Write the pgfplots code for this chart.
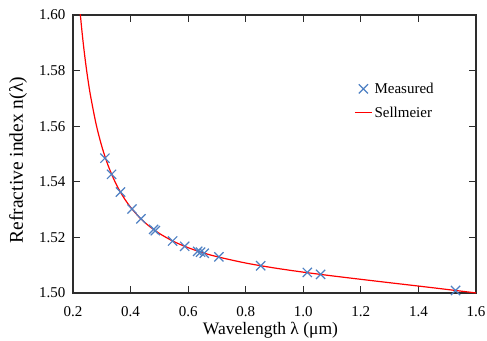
\documentclass[border=0pt]{standalone}
\usepackage{fontspec}
\setmainfont{Liberation Serif}
\usepackage{pgfplots}
\pgfplotsset{compat=1.18}
\definecolor{markblue}{RGB}{78,128,195}
\definecolor{axgray}{RGB}{45,45,45}
\begin{document}
\begin{tikzpicture}
\useasboundingbox (-73pt,-47pt) rectangle (414pt,293pt);
\begin{axis}[
  scale only axis,
  width=403pt, height=278pt,
  xmin=0.2, xmax=1.6, ymin=1.50, ymax=1.60,
  xtick={0.2,0.4,...,1.6},
  ytick={1.50,1.52,...,1.60},
  xticklabel style={/pgf/number format/.cd,fixed,fixed zerofill,precision=1,/tikz/.cd,yshift=-10pt},
  yticklabel style={/pgf/number format/.cd,fixed,fixed zerofill,precision=2,/tikz/.cd,xshift=-4pt},
  /pgf/number format/assume math mode=true,
  tick label style={font=\rmfamily\fontsize{15}{18}\selectfont, color=black},
  tick align=inside,
  major tick length=7pt,
  tick style={axgray, line width=1pt},
  axis line style={axgray, line width=1.3pt},
  xlabel={Wavelength λ (μm)},
  ylabel={Refractive index n(λ)},
  xlabel style={font=\rmfamily\fontsize{17.5}{20}\selectfont, inner sep=1pt, at={(axis description cs:0.49,-0.133)}, anchor=center},
  ylabel style={font=\rmfamily\fontsize{19.5}{22}\selectfont, at={(axis description cs:-0.136,0.478)}, anchor=center},
  legend style={draw=none, fill=none, font=\rmfamily\fontsize{15}{18}\selectfont,
    at={(axis description cs:0.69,0.771)}, anchor=north west,
    row sep=8pt, legend cell align=left},
]
\addplot[only marks, mark=x, mark size=6.5pt, color=markblue, line width=1.2pt] coordinates {
(0.311,1.5485) (0.334,1.5427) (0.365,1.5363) (0.405,1.5302) (0.436,1.5267)
(0.480,1.5229) (0.486,1.5224) (0.546,1.5187) (0.588,1.5168) (0.633,1.5150)
(0.643,1.5147) (0.656,1.5143) (0.707,1.5130) (0.852,1.5098) (1.014,1.5074)
(1.060,1.5067) (1.529,1.5009)
};
\addlegendentry{Measured}
\addplot[smooth, color=red, draw=red, line width=1.2pt] coordinates {
(0.225,1.60072) (0.230,1.59531) (0.235,1.59040) (0.240,1.58594) (0.245,1.58186)
(0.250,1.57811) (0.260,1.57147) (0.280,1.56086) (0.300,1.55277) (0.320,1.54643)
(0.340,1.54134) (0.360,1.53716) (0.380,1.53374) (0.400,1.53085) (0.430,1.52729)
(0.460,1.52444) (0.500,1.52142) (0.550,1.51852) (0.600,1.51630) (0.650,1.51452)
(0.700,1.51307) (0.800,1.51078) (0.900,1.50900) (1.000,1.50750) (1.100,1.50617)
(1.200,1.50492) (1.300,1.50370) (1.400,1.50250) (1.500,1.50127) (1.600,1.50002)
};
\addlegendentry{Sellmeier}
\end{axis}
\end{tikzpicture}
\end{document}
